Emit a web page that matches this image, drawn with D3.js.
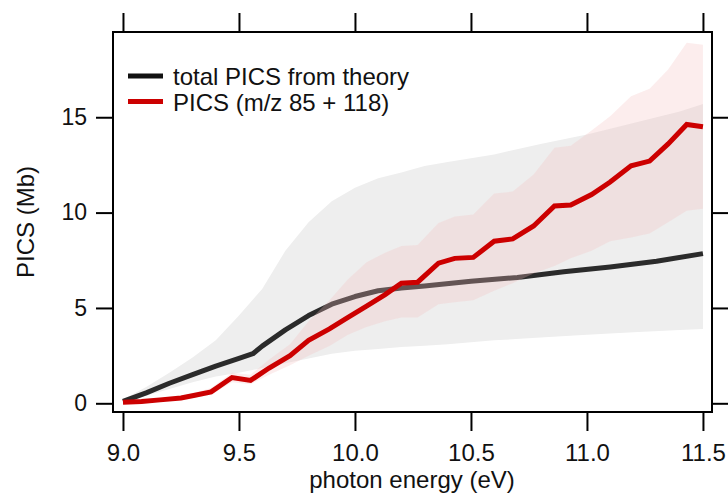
<!DOCTYPE html>
<html>
<head>
<meta charset="utf-8">
<script src="https://cdn.jsdelivr.net/npm/d3@7"></script>
<style>
  body { margin: 0; background: #fff; }
  text { font-family: "Liberation Sans", Arial, sans-serif; }
</style>
</head>
<body>
<script>
// theory curve and its uncertainty band
const theoryE = [9.0, 9.1, 9.2, 9.3, 9.4, 9.5, 9.56, 9.6, 9.7, 9.8, 9.9, 10.0, 10.1, 10.2, 10.3, 10.5, 10.7, 10.9, 11.1, 11.3, 11.5]
const theory = [0.1, 0.55, 1.05, 1.5, 1.95, 2.35, 2.6, 3.0, 3.85, 4.6, 5.2, 5.6, 5.9, 6.05, 6.15, 6.4, 6.6, 6.9, 7.15, 7.45, 7.85]

const bandE = [9.0, 9.1, 9.2, 9.3, 9.4, 9.5, 9.6, 9.7, 9.8, 9.9, 10.0, 10.1, 10.2, 10.3, 10.4, 10.5, 10.6, 10.8, 11.0, 11.2, 11.4, 11.5]
const theoryHi = [0.2, 0.85, 1.6, 2.4, 3.3, 4.6, 6.0, 8.0, 9.5, 10.6, 11.3, 11.8, 12.1, 12.45, 12.65, 12.85, 13.05, 13.6, 14.1, 14.7, 15.3, 15.7]
const theoryLo = [0.05, 0.4, 0.75, 1.1, 1.4, 1.6, 1.85, 2.1, 2.35, 2.6, 2.75, 2.85, 2.95, 3.02, 3.1, 3.2, 3.3, 3.45, 3.6, 3.72, 3.85, 3.9]

// measured PICS (m/z 85 + 118) with its band
const pE = [9.0, 9.08, 9.16, 9.25, 9.31, 9.38, 9.47, 9.55, 9.63, 9.72, 9.8, 9.89, 9.97, 10.05, 10.13, 10.2, 10.27, 10.36, 10.43, 10.51, 10.6, 10.68, 10.77, 10.86, 10.93, 11.02, 11.1, 11.19, 11.27, 11.35, 11.43, 11.5]
const pics = [0.05, 0.1, 0.18, 0.28, 0.42, 0.6, 1.35, 1.2, 1.85, 2.5, 3.3, 3.9, 4.5, 5.1, 5.7, 6.3, 6.35, 7.35, 7.6, 7.65, 8.5, 8.62, 9.3, 10.35, 10.4, 10.95, 11.6, 12.45, 12.7, 13.6, 14.62, 14.5]
const picsHi = [0.1, 0.15, 0.25, 0.35, 0.55, 0.8, 1.6, 1.5, 2.3, 3.1, 4.3, 5.4, 6.5, 7.4, 7.9, 8.25, 8.3, 9.45, 9.8, 9.9, 11.0, 11.1, 12.0, 13.4, 13.5, 14.3, 15.05, 16.1, 16.5, 17.5, 18.9, 18.8]
const picsLo = [0.0, 0.05, 0.12, 0.2, 0.3, 0.45, 1.1, 1.0, 1.5, 2.0, 2.5, 3.0, 3.6, 4.0, 4.3, 4.5, 4.5, 5.2, 5.3, 5.4, 5.9, 6.3, 6.8, 7.2, 7.6, 8.0, 8.5, 8.7, 8.9, 9.5, 10.1, 10.2]

const xTicks = [9.0, 9.5, 10.0, 10.5, 11.0, 11.5]
const yTicks = [0, 5, 10, 15]
const legendLabels = ['total PICS from theory', 'PICS (m/z 85 + 118)']

function main(){
    const width = 728
    const height = 494
    const margin = { top: 32, right: 16, bottom: 82, left: 113 }

    const svg = d3.select('body')
        .append('svg')
        .attr('width', width)
        .attr('height', height)

    const x = d3.scaleLinear()
        .domain([8.957, 11.539])
        .range([margin.left, width - margin.right])
    const y = d3.scaleLinear()
        .domain([-0.456, 19.47])
        .range([height - margin.bottom, margin.top])

    const area = (xs, lo, hi) => d3.area()
        .x((d, i) => x(xs[i]))
        .y0((d, i) => y(lo[i]))
        .y1((d, i) => y(hi[i]))(xs)
    const line = (xs, ys) => d3.line()
        .x((d, i) => x(xs[i]))
        .y((d, i) => y(ys[i]))(xs)

    // grey theory band
    svg.append('path')
        .attr('d', area(bandE, theoryLo, theoryHi))
        .attr('fill', '#eeeeee')

    svg.append('path')
        .attr('d', line(theoryE, theory))
        .attr('fill', 'none')
        .attr('stroke', '#2b2b2b')
        .attr('stroke-width', 5)
        .attr('stroke-linejoin', 'round')

    // pink band goes over the black line
    svg.append('path')
        .attr('d', area(pE, picsLo, picsHi))
        .attr('fill', 'rgb(245,190,190)')
        .attr('fill-opacity', 0.28)

    svg.append('path')
        .attr('d', line(pE, pics))
        .attr('fill', 'none')
        .attr('stroke', '#cc0000')
        .attr('stroke-width', 5)
        .attr('stroke-linejoin', 'miter')

    // axes
    const fs = '24px'
    const bottom = svg.append('g')
        .attr('transform', `translate(0,${height - margin.bottom})`)
        .call(d3.axisBottom(x).tickValues(xTicks).tickFormat(d3.format('.1f')).tickSize(19).tickSizeOuter(0).tickPadding(13))
    const top = svg.append('g')
        .attr('transform', `translate(0,${margin.top})`)
        .call(d3.axisTop(x).tickValues(xTicks).tickFormat('').tickSize(19).tickSizeOuter(0))
    const left = svg.append('g')
        .attr('transform', `translate(${margin.left},0)`)
        .call(d3.axisLeft(y).tickValues(yTicks).tickFormat(d3.format('d')).tickSize(17).tickSizeOuter(0).tickPadding(9))
    const right = svg.append('g')
        .attr('transform', `translate(${width - margin.right},0)`)
        .call(d3.axisRight(y).tickValues(yTicks).tickFormat('').tickSize(17).tickSizeOuter(0))

    for (const a of [bottom, top, left, right]) {
        a.select('.domain').remove()
        a.selectAll('line').attr('stroke', '#000').attr('stroke-width', 2)
        a.selectAll('text').attr('fill', '#111').style('font-size', fs)
    }
    left.selectAll('text').style('font-size', '23px')

    svg.append('rect')
        .attr('x', margin.left)
        .attr('y', margin.top)
        .attr('width', width - margin.left - margin.right)
        .attr('height', height - margin.top - margin.bottom)
        .attr('fill', 'none')
        .attr('stroke', '#000')
        .attr('stroke-width', 2)

    svg.append('text')
        .attr('x', 412)
        .attr('y', 488)
        .attr('text-anchor', 'middle')
        .style('font-size', fs)
        .attr('fill', '#111')
        .text('photon energy (eV)')

    svg.append('text')
        .attr('transform', `translate(34,${(margin.top + height - margin.bottom) / 2}) rotate(-90)`)
        .attr('text-anchor', 'middle')
        .style('font-size', fs)
        .attr('fill', '#111')
        .text('PICS (Mb)')

    // legend
    const legendColors = ['#111111', '#cc0000']
    const lg = svg.append('g').attr('transform', 'translate(128,76)')
    legendLabels.forEach((t, i) => {
        lg.append('line')
            .attr('x1', 0).attr('x2', 35)
            .attr('y1', i * 25.5).attr('y2', i * 25.5)
            .attr('stroke', legendColors[i])
            .attr('stroke-width', 5)
        lg.append('text')
            .attr('x', 45)
            .attr('y', i * 25.5 + 9)
            .style('font-size', fs)
            .attr('fill', '#111')
            .text(t)
    })
}

main()
</script>
</body>
</html>
